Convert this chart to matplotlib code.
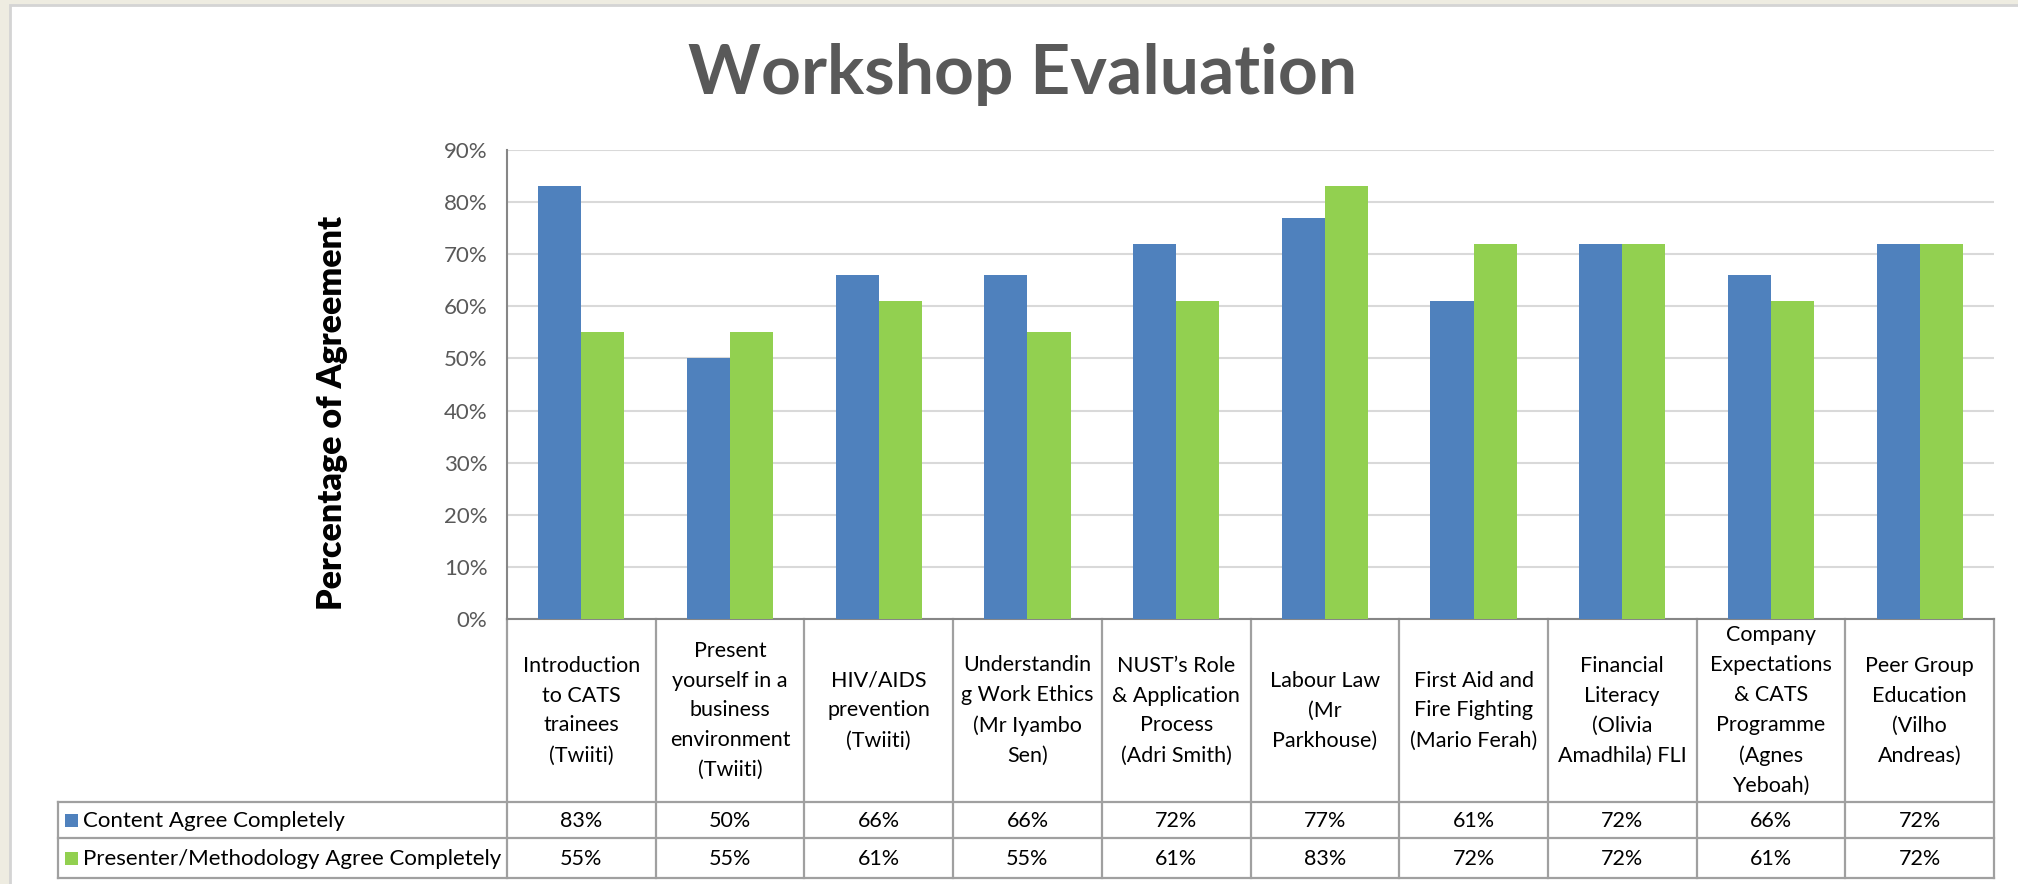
import matplotlib
matplotlib.use("Agg")
import matplotlib.pyplot as plt
from matplotlib.patches import Rectangle
from matplotlib.lines import Line2D
import matplotlib.transforms as mtransforms
from matplotlib.ticker import FuncFormatter

plt.rcParams['font.family'] = ['Lato', 'DejaVu Sans']

categories = [
    "Introduction\nto CATS\ntrainees\n(Twiiti)",
    "Present\nyourself in a\nbusiness\nenvironment\n(Twiiti)",
    "HIV/AIDS\nprevention\n(Twiiti)",
    "Understandin\ng Work Ethics\n(Mr Iyambo\nSen)",
    "NUST\u2019s Role\n& Application\nProcess\n(Adri Smith)",
    "Labour Law\n(Mr\nParkhouse)",
    "First Aid and\nFire Fighting\n(Mario Ferah)",
    "Financial\nLiteracy\n(Olivia\nAmadhila) FLI",
    "Company\nExpectations\n& CATS\nProgramme\n(Agnes\nYeboah)",
    "Peer Group\nEducation\n(Vilho\nAndreas)",
]
content = [83, 50, 66, 66, 72, 77, 61, 72, 66, 72]
presenter = [55, 55, 61, 55, 61, 83, 72, 72, 61, 72]
series_names = ["Content Agree Completely", "Presenter/Methodology Agree Completely"]
colors = ["#4F81BD", "#92D050"]

W, H = 2018, 884
fig = plt.figure(figsize=(W / 100, H / 100), dpi=100)
fig.patch.set_facecolor("#EEECE1")

# white chart area
fig.patches.append(Rectangle((10 / W, -0.01), 1, 1.01 - 5 / H, transform=fig.transFigure,
                             facecolor="white", edgecolor="#D4D4D4", linewidth=2, zorder=-5))

left, right, top, bottom = 507, 1994, 150, 619
ax = fig.add_axes([left / W, 1 - bottom / H, (right - left) / W, (bottom - top) / H])
ax.set_facecolor("none")

x = list(range(len(categories)))
bw = 0.29
ax.bar([i - bw / 2 for i in x], [v / 100 for v in content], bw, color=colors[0], zorder=3)
ax.bar([i + bw / 2 for i in x], [v / 100 for v in presenter], bw, color=colors[1], zorder=3)

ax.set_xlim(-0.5, len(categories) - 0.5)
ax.set_ylim(0, 0.9)
ax.set_yticks([i / 10 for i in range(10)])
ax.yaxis.set_major_formatter(FuncFormatter(lambda v, p: f"{v * 100:.0f}%"))
ax.tick_params(axis='y', length=0, pad=14, labelsize=16, labelcolor="#595959")
ax.set_xticks([])
ax.grid(axis='y', color="#D9D9D9", linewidth=1.5, zorder=0)
for s in ["top", "right"]:
    ax.spines[s].set_visible(False)
for s in ["left", "bottom"]:
    ax.spines[s].set_color("#868686")
    ax.spines[s].set_linewidth(1.5)

fig.text(332 / W, 1 - 413 / H, "Percentage of Agreement", rotation=90, ha="center",
         va="center", fontsize=24.5, fontweight="heavy")

fig.text(1023 / W, 1 - 74 / H, "Workshop Evaluation", ha="center", va="center",
         fontsize=50, fontweight="bold", color="#595959")

# data table below the axis
trans = mtransforms.blended_transform_factory(ax.transData, fig.transFigure)
def fy(py):
    return 1 - py / H

lc, lw = "#A0A0A0", 1.6
cat_bottom, row1, row2 = 802, 838, 878
for i in range(len(categories) + 1):
    ax.plot([i - 0.5, i - 0.5], [fy(bottom), fy(row2)], transform=trans, color=lc,
            lw=lw, clip_on=False)
fig.add_artist(Line2D([58 / W, 58 / W], [fy(cat_bottom), fy(row2)], color=lc, lw=lw,
                      transform=fig.transFigure))
for py in [cat_bottom, row1, row2]:
    fig.add_artist(Line2D([58 / W, right / W], [fy(py), fy(py)], color=lc, lw=lw,
                          transform=fig.transFigure))

for i, lab in enumerate(categories):
    ax.text(i, fy((bottom + cat_bottom) / 2), lab, transform=trans, ha="center", va="center",
            fontsize=15.5, linespacing=1.62)
    ax.text(i, fy((cat_bottom + row1) / 2 + 1), f"{content[i]}%", transform=trans,
            ha="center", va="center", fontsize=15.5)
    ax.text(i, fy((row1 + row2) / 2 + 1), f"{presenter[i]}%", transform=trans,
            ha="center", va="center", fontsize=15.5)

for k, (name, c) in enumerate(zip(series_names, colors)):
    cy = [(cat_bottom + row1) / 2, (row1 + row2) / 2][k]
    fig.patches.append(Rectangle((65 / W, fy(cy + 7)), 13 / W, 13 / H, transform=fig.transFigure,
                                 facecolor=c, edgecolor="none"))
    fig.text(83 / W, fy(cy + 1), name, ha="left", va="center", fontsize=16)

fig.savefig("out.png", dpi=100)
